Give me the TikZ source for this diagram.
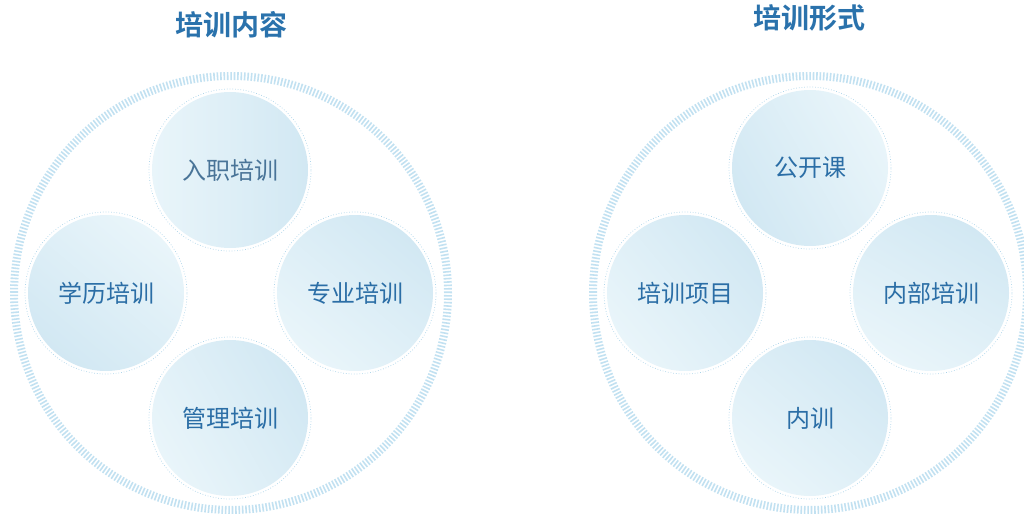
\documentclass[tikz,border=0pt]{standalone}
\usepackage{fontspec}
\newfontfamily\cjk{Noto Sans CJK SC}
\newfontfamily\cjkb{Noto Sans CJK SC Bold}
\definecolor{txt}{HTML}{2B6EA6}
\definecolor{ttl}{HTML}{2A72AC}
\definecolor{ringc}{HTML}{C2E1F1}
\definecolor{fillA}{HTML}{D2E8F3}
\definecolor{fillB}{HTML}{E9F5FA}
\definecolor{dotc}{HTML}{A8D2E8}
\begin{document}
\begin{tikzpicture}[x=1pt,y=-1pt,
  ttlstyle/.style={font=\cjkb\fontsize{28}{30}\selectfont, text=ttl, inner sep=0pt},
  bubble/.style={circle, minimum size=156pt, inner sep=0pt, shading=axis,
     left color=fillA, right color=fillB, shading angle=-40,
     font=\cjk\fontsize{24}{26}\selectfont, text=txt},
  bubblefuzzy/.style={bubble, left color=fillB, right color=fillA, text=txt!65!gray},
  outer/.style={draw=dotc, dotted, line width=0.7pt},
  ring/.style={draw=ringc, line width=8pt, dash pattern=on 1.6pt off 1.8pt}]
\useasboundingbox (0,0) rectangle (1024,516);
% left group
\coordinate (LC) at (231,293);
\draw[ring] (LC) circle[radius=217pt];
\node[ttlstyle] (T1) at (231,25) {培训内容};
\node[bubblefuzzy] (A1) at (230,170) {入职培训};
\node[bubble, shading angle=140] (A2) at (106,293) {学历培训};
\node[bubble, shading angle=-40] (A3) at (355,293) {专业培训};
\node[bubble, shading angle=-60] (A4) at (230,418) {管理培训};
\foreach \n in {A1,A2,A3,A4} \draw[outer] (\n.center) circle[radius=81pt];
% right group
\coordinate (RC) at (810,293);
\draw[ring] (RC) circle[radius=217pt];
\node[ttlstyle] (T2) at (809,18) {培训形式};
\node[bubble, shading angle=120] (B1) at (810,168) {公开课};
\node[bubble, shading angle=-50] (B2) at (685,293) {培训项目};
\node[bubble, shading angle=-30] (B3) at (931,293) {内部培训};
\node[bubble, shading angle=-40] (B4) at (810,418) {内训};
\foreach \n in {B1,B2,B3,B4} \draw[outer] (\n.center) circle[radius=81pt];
\end{tikzpicture}
\end{document}
